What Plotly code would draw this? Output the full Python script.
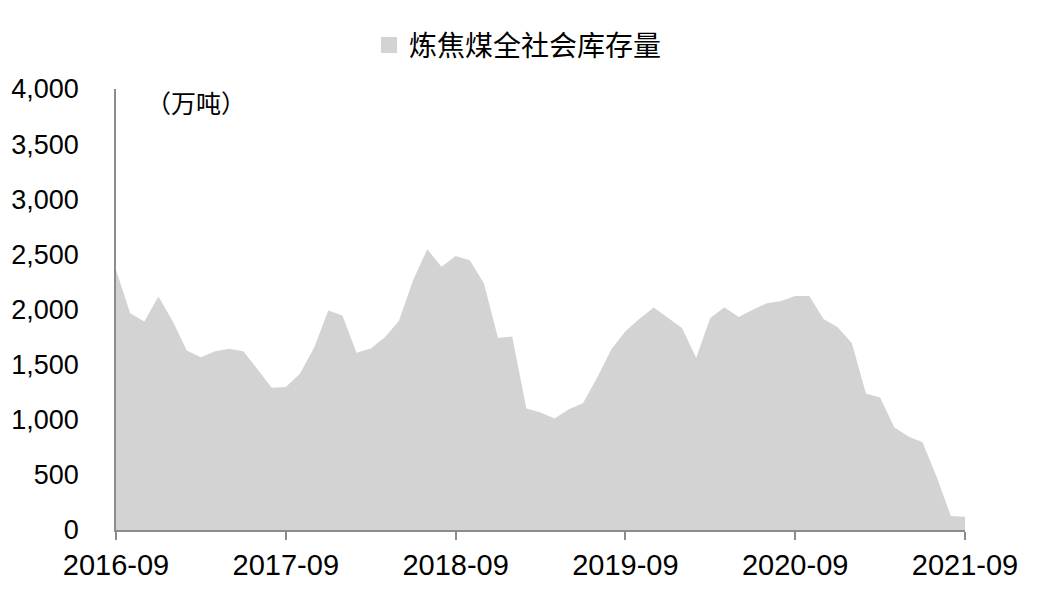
import plotly.graph_objects as go

months = []
for i in range(61):
    y = 2016 + (8 + i) // 12
    m = (8 + i) % 12 + 1
    months.append(f"{y}-{m:02d}")

stock = [2360, 1967, 1892, 2117, 1895, 1628, 1568, 1622, 1643, 1622,
         1457, 1291, 1297, 1417, 1652, 1991, 1946, 1607, 1646, 1748,
         1898, 2267, 2547, 2387, 2486, 2447, 2237, 1742, 1754, 1102,
         1066, 1012, 1096, 1150, 1381, 1637, 1802, 1916, 2018, 1928,
         1832, 1562, 1922, 2021, 1931, 1997, 2057, 2078, 2123, 2123,
         1913, 1838, 1697, 1237, 1201, 931, 847, 796, 480, 126, 120]

tick_labels = ["2016-09", "2017-09", "2018-09", "2019-09", "2020-09", "2021-09"]
series_name = "炼焦煤全社会库存量"
unit_label = "（万吨）"

FILL = "#d3d3d3"
AXIS = "#8c8c8c"
FONT = "Liberation Sans, Arial, Noto Sans CJK SC"

fig = go.Figure()
fig.add_trace(go.Scatter(
    x=months, y=stock, mode="lines", fill="tozeroy",
    fillcolor=FILL, line=dict(width=0, color=FILL),
    showlegend=False, hoverinfo="x+y"))
fig.add_trace(go.Scatter(
    x=[None], y=[None], mode="markers", name=series_name,
    marker=dict(symbol="square", size=16, color=FILL), showlegend=True))

fig.update_layout(
    width=1046, height=603,
    margin=dict(l=108, r=89, t=78, b=81),
    paper_bgcolor="white", plot_bgcolor="white",
    font=dict(family=FONT, color="#000000", size=24),
    legend=dict(orientation="h", x=0.298, xanchor="left", y=1.099, yanchor="middle",
                font=dict(size=28, family="Noto Sans CJK SC"),
                itemwidth=30, bgcolor="rgba(0,0,0,0)"),
    annotations=[dict(text=unit_label, x=0.094, y=0.97, xref="paper", yref="paper",
                      xanchor="center", yanchor="middle",
                      showarrow=False, font=dict(size=25, family="Noto Sans CJK SC"))],
)
fig.update_xaxes(
    type="category", range=[0, 60], automargin=False,
    tickmode="array", tickvals=[months[i] for i in range(0, 61, 12)], ticktext=tick_labels,
    showline=True, linecolor=AXIS, linewidth=2,
    ticks="outside", ticklen=8, tickcolor=AXIS, tickwidth=1.5,
    showgrid=False, zeroline=False, tickfont=dict(size=29))
fig.update_yaxes(
    range=[0, 4000], tickvals=[0, 500, 1000, 1500, 2000, 2500, 3000, 3500, 4000],
    tickformat=",d", showline=True, linecolor=AXIS, linewidth=1.5, automargin=False,
    ticks="", showgrid=False, zeroline=False, ticklabelstandoff=30,
    tickfont=dict(size=27))

fig.write_html("out.html")
